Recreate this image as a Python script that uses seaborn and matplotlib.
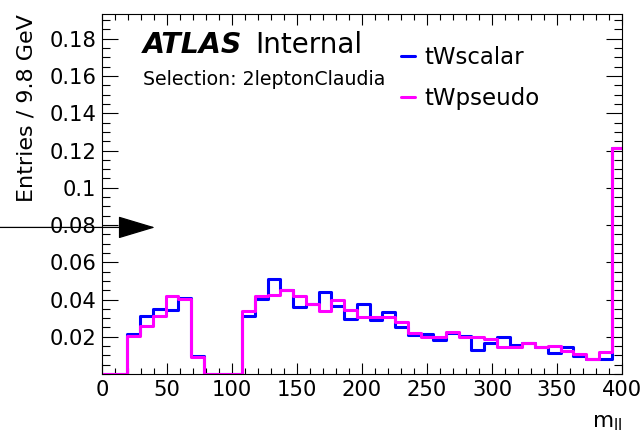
import numpy as np
import pandas as pd
import matplotlib
matplotlib.use("Agg")
import matplotlib.pyplot as plt
from matplotlib.lines import Line2D
from matplotlib.ticker import MultipleLocator
import seaborn as sns

# ---- data ----
bin_width = 9.8
n_bins = 41
tWscalar = [0, 0, 0.0215, 0.0309, 0.0347, 0.0341, 0.0408, 0.0099, 0, 0, 0,
            0.0310, 0.0403, 0.0511, 0.0449, 0.0358, 0.0377, 0.0438, 0.0363, 0.0298,
            0.0377, 0.0289, 0.0332, 0.0255, 0.0210, 0.0215, 0.0183, 0.0219, 0.0205,
            0.0129, 0.0169, 0.0201, 0.0156, 0.0165, 0.0144, 0.0115, 0.0144, 0.0097,
            0.0079, 0.0083, 0.1212]
tWpseudo = [0, 0, 0.0205, 0.0259, 0.0309, 0.0417, 0.0402, 0.0092, 0, 0, 0,
            0.0336, 0.0417, 0.0426, 0.0449, 0.0420, 0.0377, 0.0339, 0.0395, 0.0341,
            0.0304, 0.0304, 0.0304, 0.0277, 0.0219, 0.0200, 0.0201, 0.0223, 0.0201,
            0.0201, 0.0189, 0.0147, 0.0144, 0.0169, 0.0144, 0.0151, 0.0126, 0.0108,
            0.0079, 0.0119, 0.1212]
series_names = ["tWscalar", "tWpseudo"]
series_colors = ["#0000ff", "#ff00ff"]

edges = np.arange(n_bins + 1) * bin_width
centers = edges[:-1] + bin_width / 2
df = pd.concat([
    pd.DataFrame({"mll": centers, "w": tWscalar, "sample": "tWscalar"}),
    pd.DataFrame({"mll": centers, "w": tWpseudo, "sample": "tWpseudo"}),
])

sns.set_style("ticks")
plt.rcParams["font.family"] = ["DejaVu Sans"]
plt.rcParams["mathtext.fontset"] = "dejavusans"
plt.rcParams["text.color"] = "black"
plt.rcParams["axes.labelcolor"] = "black"

fig = plt.figure(figsize=(6.43, 4.33), dpi=100)
ax = fig.add_axes([102 / 643, 1 - 374 / 433, 520 / 643, 360 / 433])

for name, color in zip(series_names, series_colors):
    sns.histplot(data=df[df["sample"] == name], x="mll", weights="w",
                 binwidth=bin_width, binrange=(0, n_bins * bin_width),
                 element="step", fill=False, color=color, linewidth=2.2, ax=ax)

ax.set_xlim(0, 400)
ax.set_ylim(0, 0.1933)
ax.set_ylabel("")
ax.set_xlabel("")

ax.xaxis.set_major_locator(MultipleLocator(50))
ax.xaxis.set_minor_locator(MultipleLocator(10))
ax.yaxis.set_minor_locator(MultipleLocator(0.005))
yt = np.round(np.arange(0.02, 0.19, 0.02), 2)
ax.set_yticks(yt)
ax.set_yticklabels([f"{v:g}" for v in yt])
ax.tick_params(which="both", direction="in", top=True, right=True,
               labelsize=15.2, width=0.8, colors="black")
ax.tick_params(axis="y", which="major", length=11.5, pad=4)
ax.tick_params(axis="y", which="minor", length=6)
ax.tick_params(axis="x", which="major", length=7.7, pad=4)
ax.tick_params(axis="x", which="minor", length=4)
for s in ax.spines.values():
    s.set_linewidth(0.8)
    s.set_color("black")

fig.text(27 / 643, 1 - 14 / 433, "Entries / 9.8 GeV", rotation=90,
         ha="center", va="top", fontsize=16)
fig.text(622 / 643, 1 - 427 / 433, r"m$_{\mathrm{ll}}$", ha="right",
         va="baseline", fontsize=15.5)

fig.text(143 / 643, 1 - 53 / 433, "ATLAS", fontsize=20.5, fontweight="bold",
         fontstyle="italic", va="baseline")
fig.text(255 / 643, 1 - 53 / 433, "Internal", fontsize=20, va="baseline")
fig.text(143 / 643, 1 - 85 / 433, "Selection: 2leptonClaudia", fontsize=13.6,
         va="baseline")

handles = [Line2D([0], [0], color=c, lw=2.2) for c in series_colors]
ax.legend(handles, series_names, loc="upper left",
          bbox_to_anchor=((401 - 102) / 520, (374 - 46) / 360),
          frameon=False, fontsize=16.5, handlelength=0.6, handletextpad=0.4,
          labelspacing=0.8, borderaxespad=0, borderpad=0)

# arrow marker at left edge
ax.annotate("", xy=(40.8, 0.0787), xytext=(-78.5, 0.0787),
            xycoords="data", textcoords="data", annotation_clip=False,
            arrowprops=dict(arrowstyle="-|>,head_length=1.2,head_width=0.36",
                            mutation_scale=20, color="black", lw=0.9,
                            shrinkA=0, shrinkB=0))
fig.savefig("out.png", dpi=100)
